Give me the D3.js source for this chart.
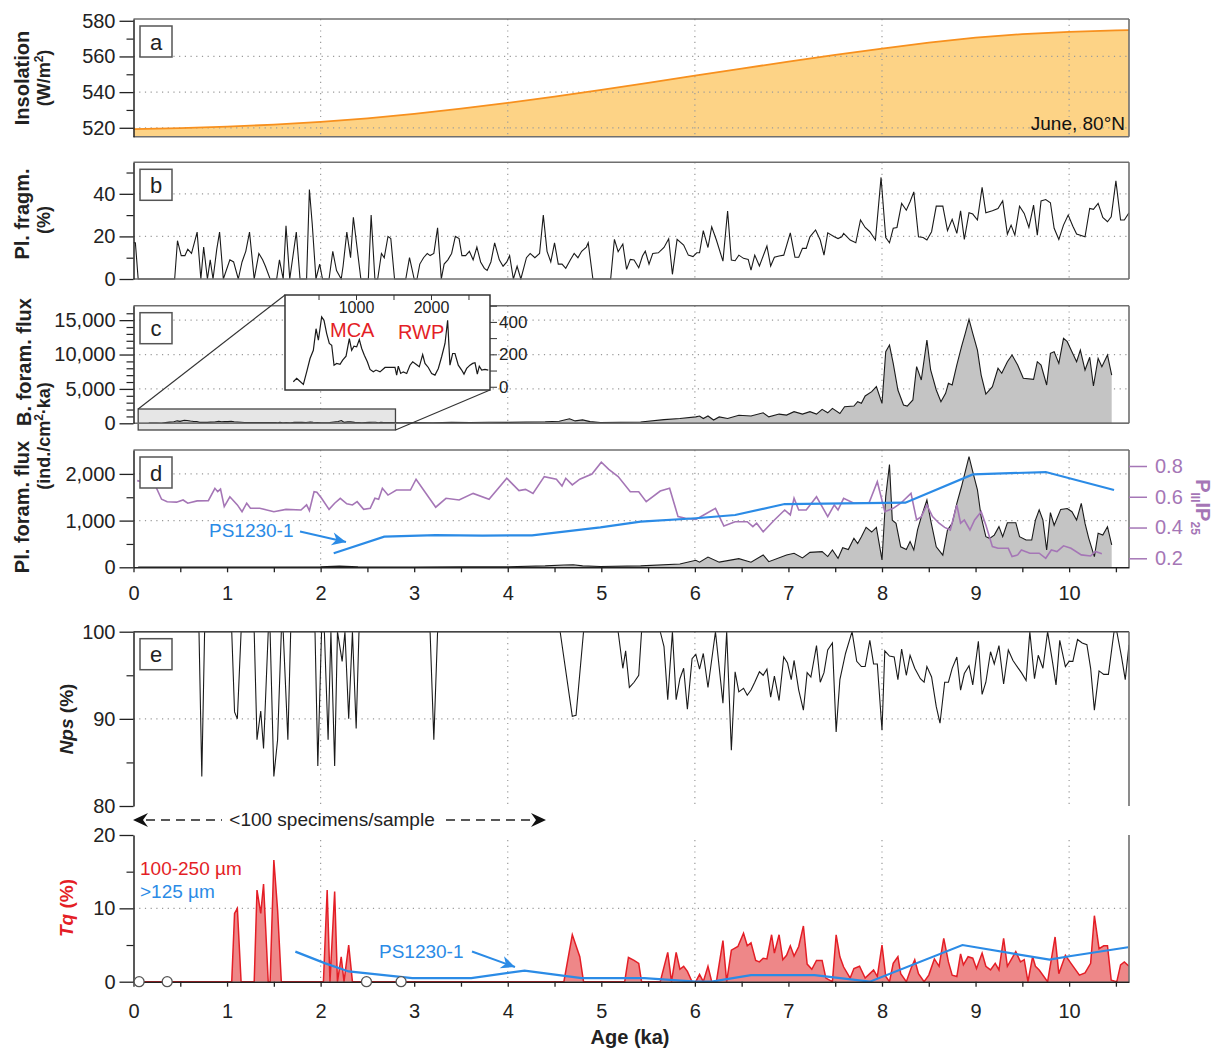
<!DOCTYPE html>
<html><head><meta charset="utf-8">
<script src="https://cdn.jsdelivr.net/npm/d3@7"></script>
<style>
body{margin:0;background:#fff;}
svg{font-family:"Liberation Sans",Arial,Helvetica,sans-serif;}
</style></head><body>
<svg id="chart" width="1220" height="1055"></svg>
<script>
// ---------------- DATA ----------------
const ageDomain = [0, 10.64];
const ageMajorTicks = [0,1,2,3,4,5,6,7,8,9,10];
const ageMinorTicks = [0.5,1.5,2.5,3.5,4.5,5.5,6.5,7.5,8.5,9.5,10.5];
const ageGrid = [2,4,6,8,10];

// (a) June insolation 80°N (W/m2)
const insolData = [[0,519.2],[0.5,519.8],[1,520.6],[1.5,521.8],[2,523.3],[2.5,525.3],[3,527.8],[3.5,530.7],[4,534],[4.5,537.5],[5,541.3],[5.5,545.2],[6,549.2],[6.5,553.2],[7,557.1],[7.5,560.9],[8,564.4],[8.5,567.8],[9,570.6],[9.5,572.5],[10,573.8],[10.5,574.6],[10.64,574.8]];
const insolTicks = [520,540,560,580], insolMinor = [530,550,570], insolGrid = [520,540,560];

// (b) planktic fragments (%)
const fragData = [[0.0,17],[0.02,17],[0.05,0],[0.44,0],[0.47,18],[0.51,11],[0.55,11],[0.58,14],[0.62,12],[0.65,17],[0.68,22],[0.72,0],[0.75,15],[0.79,0],[0.82,9],[0.85,0],[0.89,14],[0.92,22],[0.96,0],[1.03,9],[1.07,8],[1.12,0],[1.16,8],[1.20,13],[1.24,22],[1.29,0],[1.34,12],[1.38,9],[1.41,6],[1.46,0],[1.53,0],[1.56,9],[1.60,0],[1.63,25],[1.67,0],[1.74,22],[1.78,0],[1.85,0],[1.88,42],[1.91,26],[1.95,0],[1.99,7],[2.02,0],[2.09,0],[2.13,13],[2.17,4],[2.22,0],[2.24,6],[2.28,22],[2.32,10],[2.35,29],[2.43,0],[2.51,0],[2.54,30],[2.58,0],[2.61,0],[2.65,12],[2.68,10],[2.72,20],[2.75,19],[2.79,0],[2.91,0],[2.95,10],[3.00,0],[3.03,0],[3.06,7],[3.10,10],[3.14,12],[3.17,11],[3.21,12],[3.25,24],[3.29,0],[3.32,7],[3.36,9],[3.40,12],[3.44,20],[3.48,19],[3.51,11],[3.55,11],[3.59,13],[3.63,9],[3.67,15],[3.71,8],[3.75,5],[3.78,4],[3.82,8],[3.86,17],[3.91,9],[3.95,6],[3.99,8],[4.02,11],[4.06,0],[4.10,6],[4.14,0],[4.20,10],[4.24,12],[4.29,10],[4.34,12],[4.38,30],[4.42,13],[4.46,8],[4.50,17],[4.54,7],[4.58,7],[4.62,5],[4.67,9],[4.71,12],[4.75,10],[4.79,13],[4.84,15],[4.86,17],[4.91,0],[5.10,0],[5.14,18.6],[5.18,12.8],[5.23,16.4],[5.27,4.5],[5.31,9.2],[5.35,8.9],[5.40,5.3],[5.44,10.8],[5.47,13.1],[5.51,7],[5.55,12],[5.61,12.3],[5.67,14.8],[5.72,18.9],[5.76,2.2],[5.81,18.6],[5.88,15.9],[5.93,11.2],[5.98,10.5],[6.02,12.3],[6.05,12.3],[6.09,22.7],[6.14,14.8],[6.18,24.5],[6.23,18.3],[6.30,8.4],[6.35,31.9],[6.39,8.9],[6.43,8.6],[6.47,11.2],[6.52,9.7],[6.57,9.2],[6.60,4.2],[6.64,11.2],[6.69,6.1],[6.77,15.5],[6.81,6.1],[6.85,10.2],[6.90,10.8],[6.95,11.2],[7.02,21.7],[7.07,10.2],[7.11,10.2],[7.15,14.4],[7.19,14.4],[7.23,19.8],[7.29,23],[7.34,18.3],[7.38,11.2],[7.42,21.7],[7.49,19.8],[7.53,19],[7.57,19.8],[7.59,21.4],[7.66,18.3],[7.72,17],[7.77,27.7],[7.82,24.2],[7.87,22.2],[7.93,18.3],[7.99,47.7],[8.04,19.5],[8.08,17],[8.12,23.8],[8.16,24.2],[8.21,35.5],[8.26,32.3],[8.30,36.3],[8.34,40.9],[8.39,19.8],[8.44,19.5],[8.48,18.3],[8.53,22.2],[8.58,34.2],[8.65,34.2],[8.70,22.7],[8.75,28],[8.80,21.4],[8.84,32],[8.88,18.6],[8.93,31.1],[8.97,30.5],[9.02,27.7],[9.07,43],[9.11,31.1],[9.18,32],[9.24,33.1],[9.29,36.7],[9.34,21.1],[9.38,25.3],[9.42,20.6],[9.47,34.2],[9.52,30.8],[9.57,24.2],[9.62,34.7],[9.66,20.6],[9.70,36.7],[9.75,37.3],[9.80,35.8],[9.84,23.8],[9.89,18.6],[9.94,25.3],[9.99,30],[10.04,24.8],[10.08,21.1],[10.17,19.8],[10.22,33.1],[10.26,32.7],[10.31,35.5],[10.36,28.9],[10.41,26.9],[10.45,29.2],[10.50,46.1],[10.55,27.7],[10.59,27.7],[10.64,31.1]];
const fragTicks = [0,20,40], fragMinor = [10,30,50], fragGrid = [20,40];

// (c) benthic foram flux: inset record 0-2.8 ka (years BP, ind./cm2 ka)
const insetData = [[164,31],[209,52],[244,37],[298,14],[342,92],[387,174],[431,225],[467,358],[498,287],[542,431],[573,410],[609,328],[644,267],[676,256],[707,133],[742,144],[787,139],[822,164],[867,189],[911,297],[942,225],[973,250],[1009,246],[1044,291],[1076,236],[1111,195],[1151,154],[1187,107],[1231,92],[1267,103],[1320,92],[1387,119],[1453,119],[1520,119],[1542,72],[1564,127],[1596,82],[1631,92],[1676,82],[1720,133],[1756,154],[1800,139],[1844,123],[1889,199],[1920,144],[1964,119],[2009,82],[2053,72],[2098,113],[2142,185],[2187,267],[2222,410],[2253,133],[2289,205],[2320,205],[2364,133],[2409,103],[2440,78],[2476,113],[2520,133],[2556,144],[2587,148],[2618,78],[2644,127],[2676,103],[2720,107],[2764,103]];
const insetXTicks = [500,1000,1500,2000,2500], insetXLabels = [1000,2000];
const insetYTicks = [0,100,200,300,400,500], insetYLabels = [0,200,400];
// benthic foram flux, 2.8-10.5 ka (ka, ind./cm2 ka)
const bfluxData = [[2.85,90],[3.0,110],[3.2,90],[3.4,130],[3.6,110],[3.8,150],[4.0,140],[4.2,180],[4.4,220],[4.55,300],[4.66,650],[4.72,350],[4.8,500],[4.88,250],[4.99,120],[5.42,200],[5.67,540],[5.84,690],[6.01,930],[6.05,1060],[6.09,690],[6.14,1060],[6.20,480],[6.26,930],[6.35,690],[6.47,1160],[6.60,1060],[6.73,1530],[6.79,930],[6.90,1340],[6.98,1190],[7.06,1690],[7.15,1340],[7.23,1690],[7.30,1340],[7.36,2030],[7.42,1530],[7.47,2170],[7.55,1430],[7.60,2410],[7.70,2510],[7.74,3140],[7.78,2900],[7.82,3970],[7.89,4600],[7.94,5330],[8.00,2900],[8.04,10410],[8.08,11380],[8.12,8720],[8.17,4840],[8.23,2660],[8.27,2510],[8.33,3390],[8.37,8240],[8.42,6300],[8.48,12110],[8.52,7750],[8.58,4840],[8.63,3140],[8.68,4360],[8.71,5810],[8.75,5570],[8.80,8480],[8.85,11140],[8.89,13080],[8.93,15110],[8.97,13080],[9.02,10650],[9.06,7020],[9.11,4260],[9.18,5330],[9.24,8000],[9.28,7270],[9.34,8960],[9.39,9930],[9.45,8480],[9.51,6540],[9.62,6390],[9.66,8960],[9.70,8480],[9.76,5570],[9.80,10170],[9.84,10410],[9.89,8720],[9.94,12350],[9.98,11870],[10.03,10410],[10.08,8960],[10.12,10650],[10.17,7750],[10.22,9600],[10.26,5420],[10.31,9440],[10.35,8240],[10.41,9930],[10.455,7020]];
const bfluxTicks = [0,5000,10000,15000];
const bfluxMinor = [1000,2000,3000,4000,6000,7000,8000,9000,11000,12000,13000,14000,16000];
const bfluxGrid = [5000,10000,15000];

// (d) planktic foram flux, PS1230-1 flux, PIIIIP25
const pfluxData = [[0.05,5],[0.5,6],[1.0,8],[1.5,6],[2.0,10],[2.2,25],[2.4,12],[3.0,8],[3.5,10],[4.0,12],[4.4,30],[4.6,50],[4.7,55],[4.8,30],[4.99,16],[5.42,30],[5.84,70],[6.01,150],[6.05,110],[6.14,220],[6.26,110],[6.47,185],[6.60,110],[6.73,264],[6.79,120],[6.98,264],[7.06,300],[7.15,200],[7.23,320],[7.36,335],[7.42,230],[7.47,370],[7.53,190],[7.58,420],[7.64,380],[7.70,620],[7.74,510],[7.78,655],[7.83,855],[7.89,755],[7.94,855],[8.00,158],[8.04,1520],[8.08,2200],[8.11,1010],[8.15,940],[8.20,440],[8.26,380],[8.30,550],[8.34,370],[8.38,800],[8.42,1080],[8.48,1440],[8.52,1010],[8.58,440],[8.65,260],[8.70,800],[8.75,940],[8.80,1370],[8.85,1730],[8.89,2050],[8.93,2370],[8.97,2050],[9.02,1660],[9.06,1080],[9.11,655],[9.15,620],[9.20,690],[9.25,870],[9.29,655],[9.34,955],[9.43,955],[9.47,655],[9.54,585],[9.60,585],[9.64,1010],[9.68,1230],[9.72,1010],[9.76,370],[9.80,1170],[9.84,900],[9.91,1240],[9.98,1260],[10.03,1190],[10.08,1010],[10.13,1370],[10.17,940],[10.21,620],[10.27,230],[10.31,730],[10.36,690],[10.41,870],[10.455,480]];
const ps1230FluxData = [[2.14,300],[2.68,655],[3.23,690],[3.73,680],[4.26,685],[4.99,856],[5.42,977],[6.01,1050],[6.43,1120],[6.96,1355],[8.25,1383],[8.97,1990],[9.75,2040],[10.48,1655]];
const pip25Data = [[0.04,0.705],[0.23,0.677],[0.30,0.584],[0.36,0.568],[0.46,0.565],[0.53,0.579],[0.58,0.558],[0.68,0.573],[0.80,0.575],[0.87,0.655],[0.90,0.633],[0.93,0.65],[0.97,0.536],[1.03,0.60],[1.11,0.547],[1.16,0.503],[1.21,0.558],[1.25,0.525],[1.35,0.525],[1.50,0.503],[1.63,0.518],[1.79,0.514],[1.85,0.547],[1.88,0.51],[1.93,0.633],[1.96,0.629],[2.01,0.59],[2.09,0.518],[2.15,0.558],[2.21,0.59],[2.28,0.554],[2.34,0.547],[2.39,0.568],[2.46,0.518],[2.53,0.525],[2.58,0.59],[2.62,0.584],[2.66,0.655],[2.72,0.611],[2.81,0.644],[2.96,0.644],[3.02,0.714],[3.23,0.532],[3.34,0.59],[3.48,0.579],[3.63,0.622],[3.80,0.584],[3.99,0.72],[4.12,0.64],[4.19,0.648],[4.27,0.622],[4.39,0.731],[4.52,0.714],[4.58,0.67],[4.62,0.72],[4.69,0.677],[4.77,0.714],[4.90,0.748],[5.00,0.825],[5.08,0.778],[5.18,0.731],[5.31,0.633],[5.40,0.633],[5.48,0.568],[5.63,0.637],[5.73,0.655],[5.82,0.471],[5.90,0.46],[6.01,0.453],[6.09,0.48],[6.22,0.525],[6.31,0.41],[6.43,0.438],[6.56,0.438],[6.62,0.406],[6.66,0.428],[6.73,0.373],[6.85,0.449],[6.96,0.514],[7.02,0.482],[7.06,0.59],[7.11,0.514],[7.19,0.514],[7.30,0.6],[7.36,0.536],[7.42,0.471],[7.49,0.547],[7.53,0.514],[7.59,0.59],[7.70,0.558],[7.78,0.558],[7.86,0.558],[7.95,0.698],[8.03,0.503],[8.12,0.525],[8.20,0.558],[8.31,0.622],[8.37,0.449],[8.42,0.471],[8.48,0.547],[8.54,0.471],[8.61,0.428],[8.67,0.401],[8.73,0.384],[8.80,0.547],[8.84,0.428],[8.88,0.449],[8.94,0.384],[8.99,0.449],[9.06,0.503],[9.11,0.417],[9.18,0.276],[9.24,0.265],[9.35,0.265],[9.39,0.211],[9.45,0.222],[9.49,0.254],[9.58,0.233],[9.68,0.233],[9.75,0.2],[9.81,0.254],[9.87,0.244],[9.94,0.281],[10.02,0.265],[10.13,0.222],[10.23,0.215],[10.28,0.244],[10.35,0.229]];
const pfluxTicks = [0,1000,2000], pfluxMinor = [500,1500], pfluxGrid = [1000,2000];
const pipTicks = [0.2,0.4,0.6,0.8];

// (e) Nps (%)
const npsData = [[0,100],[0.70,100],[0.73,83.4],[0.76,100],[1.05,100],[1.08,90.8],[1.11,90],[1.15,100],[1.29,100],[1.32,87.6],[1.36,90.9],[1.39,86.6],[1.44,100],[1.46,100],[1.50,83.4],[1.54,87.6],[1.58,100],[1.60,100],[1.65,87.6],[1.68,100],[1.94,100],[1.97,84.6],[2.01,100],[2.04,100],[2.08,87.6],[2.11,100],[2.15,84.6],[2.18,100],[2.23,96.6],[2.26,100],[2.30,90],[2.34,100],[2.38,88.9],[2.41,100],[3.17,100],[3.21,87.6],[3.25,100],[4.56,100],[4.69,90.3],[4.73,90.4],[4.81,100],[5.18,100],[5.23,95.8],[5.26,97.8],[5.30,93.6],[5.35,94.2],[5.40,95.0],[5.43,100],[5.63,100],[5.67,98.3],[5.71,92.2],[5.76,100],[5.80,92.2],[5.84,94.6],[5.88,95.8],[5.92,91.1],[5.97,96.9],[6.01,97.4],[6.05,95.7],[6.09,97.5],[6.14,93.6],[6.22,100],[6.30,91.8],[6.34,100],[6.39,86.4],[6.43,95.4],[6.47,93.1],[6.52,93.5],[6.56,92.7],[6.60,93.3],[6.64,94.2],[6.69,95.4],[6.73,95],[6.77,95.7],[6.81,92.5],[6.85,94.9],[6.90,92.1],[6.95,97.1],[6.99,96.4],[7.03,94.5],[7.06,96.7],[7.11,93.3],[7.16,91.0],[7.20,95.3],[7.24,94.8],[7.30,98.4],[7.34,94.2],[7.38,95.3],[7.42,97.9],[7.47,98.7],[7.51,88.5],[7.55,94.5],[7.61,97.5],[7.68,100],[7.73,96.6],[7.78,96],[7.82,96],[7.87,99],[7.91,96.3],[7.95,96.3],[8.00,88.7],[8.03,97.8],[8.08,97.2],[8.13,97.1],[8.17,94.5],[8.21,98],[8.26,95],[8.30,97.3],[8.35,95.8],[8.41,94.6],[8.45,94.2],[8.48,96],[8.53,94.8],[8.58,91.4],[8.62,89.5],[8.67,94.2],[8.71,94.2],[8.75,95.8],[8.80,97.1],[8.84,93.3],[8.88,95.2],[8.93,96.1],[8.97,93.9],[9.03,98.9],[9.07,92.8],[9.11,94.2],[9.16,97.7],[9.20,96.3],[9.25,98.4],[9.30,94.0],[9.35,97.9],[9.40,96.7],[9.45,95.9],[9.49,95.3],[9.54,94.4],[9.58,100],[9.63,94.6],[9.67,97.3],[9.72,95.8],[9.77,100],[9.82,96.7],[9.86,93.9],[9.90,99],[9.96,96],[10.00,96.6],[10.04,96.6],[10.09,99.1],[10.14,98.7],[10.19,98.5],[10.23,95.8],[10.27,91.0],[10.32,95.5],[10.37,95.1],[10.42,95.1],[10.48,100],[10.51,100],[10.56,97.1],[10.60,94.5],[10.64,98.5]];
const npsTicks = [80,90,100], npsMinor = [85,95], npsGrid = [90];

// Tq (%)
const tqData = [[0,0],[1.05,0],[1.08,9.3],[1.11,10],[1.15,0],[1.29,0],[1.32,12.5],[1.36,9.3],[1.39,13.3],[1.44,0],[1.46,0],[1.50,16.6],[1.54,9.8],[1.58,0],[2.03,0],[2.07,12.5],[2.10,0],[2.15,12.3],[2.18,0],[2.22,3.4],[2.25,0],[2.30,5],[2.34,0],[4.60,0],[4.69,6.4],[4.77,3.4],[4.81,0],[5.25,0],[5.29,3.3],[5.35,2.9],[5.40,2.5],[5.43,0],[5.63,0],[5.71,4.0],[5.75,0],[5.80,4.0],[5.84,1.7],[5.88,2.1],[5.92,1.4],[5.97,0],[6.01,0],[6.05,1.0],[6.09,0],[6.14,2.1],[6.18,0],[6.23,0],[6.30,5.6],[6.34,0],[6.39,4.3],[6.46,4.8],[6.52,6.6],[6.56,4.9],[6.60,5.3],[6.65,2.9],[6.69,2.7],[6.73,3.2],[6.77,3.1],[6.82,6.4],[6.85,3.9],[6.90,6.4],[6.94,3.0],[6.98,3.6],[7.02,4.9],[7.06,3.5],[7.11,4.8],[7.16,7.6],[7.20,2.4],[7.25,1.7],[7.30,2.9],[7.36,2.9],[7.40,0.5],[7.47,0],[7.51,6.4],[7.55,3.4],[7.59,2.0],[7.66,0.5],[7.70,1.8],[7.76,2.1],[7.82,0.5],[7.87,1.1],[7.91,1.6],[7.95,0.7],[8.00,5.0],[8.04,0.7],[8.08,0],[8.12,2.5],[8.17,3.4],[8.20,1.1],[8.26,0],[8.31,1.8],[8.35,3.0],[8.39,1.1],[8.45,0],[8.50,0.9],[8.56,3.1],[8.61,2.1],[8.66,5.9],[8.71,2.7],[8.75,0.9],[8.80,0.7],[8.84,3.8],[8.87,2.3],[8.92,3.4],[8.97,3.2],[9.01,1.8],[9.07,3.9],[9.11,2.1],[9.16,1.6],[9.21,2.5],[9.25,1.6],[9.30,5.9],[9.34,2.1],[9.39,3.2],[9.43,4.1],[9.48,2.7],[9.52,3.0],[9.56,0],[9.61,3.4],[9.64,2.1],[9.68,1.6],[9.77,0],[9.85,6.1],[9.89,1.1],[9.96,3.6],[10.02,2.5],[10.11,0.9],[10.17,1.2],[10.23,2.5],[10.27,9.0],[10.32,4.5],[10.37,4.9],[10.41,4.9],[10.45,0.2],[10.51,0],[10.55,2.3],[10.59,2.7],[10.64,2.1]];
const tqPsData = [[1.73,4.1],[2.05,2.5],[2.30,1.4],[2.98,0.5],[3.61,0.5],[4.18,1.5],[4.79,0.5],[5.46,0.5],[6.01,0],[6.18,0],[6.60,0.9],[7.28,0.9],[7.87,0],[8.86,5.0],[9.79,3.0],[10.02,3.5],[10.63,4.7]];
const tqZeroSamples = [0.06,0.36,2.49,2.86];
const tqTicks = [0,10,20], tqMinor = [5,15], tqGrid = [10];

// ---------------- LAYOUT / STYLE ----------------
const X0 = 133.5, X1 = 1129;
const BLUE='#2b8be6', PURPLE='#a576b6', RED='#e41e26', ORANGE='#f7901e', ORANGE_FILL='#fdd386',
      GRAY_FILL='#c4c4c4', FRAME='#6f6f6f', AXIS='#222', GRID='#9a9a9a';
const P = {
  a:{top:19,bottom:136.7,domain:[515,581]},
  b:{top:162.3,bottom:279,domain:[0,54.8]},
  c:{top:305.7,bottom:423.3,domain:[0,17100]},
  d:{top:450,bottom:567.3,domain:[0,2512]},
  e:{top:631.7,bottom:806,domain:[80,100]},
  t:{top:835,bottom:981.7,domain:[0,20]}
};

const svg = d3.select('#chart');
const defs = svg.append('defs');
const x = d3.scaleLinear().domain(ageDomain).range([X0, X1]);
const Y = {};
for (const k in P) Y[k] = d3.scaleLinear().domain(P[k].domain).range([P[k].bottom, P[k].top]);
for (const k in P) defs.append('clipPath').attr('id','clip-'+k).append('rect')
  .attr('x',X0).attr('y',P[k].top-1).attr('width',X1-X0).attr('height',P[k].bottom-P[k].top+2);

function gridH(k, vals, top){
  const g = svg.append('g');
  g.selectAll('line.h').data(vals).join('line')
    .attr('x1',X0).attr('x2',X1).attr('y1',d=>Y[k](d)).attr('y2',d=>Y[k](d))
    .attr('stroke',GRID).attr('stroke-width',1.2).attr('stroke-dasharray','1.2,4.5');
  g.selectAll('line.v').data(ageGrid).join('line')
    .attr('x1',d=>x(d)).attr('x2',d=>x(d)).attr('y1',top!==undefined?top:P[k].top).attr('y2',P[k].bottom)
    .attr('stroke',GRID).attr('stroke-width',1.2).attr('stroke-dasharray','1.2,4.5');
}
function leftAxis(k, major, minor, fmt){
  const y = Y[k];
  const g = svg.append('g').attr('transform',`translate(${X0},0)`)
    .call(d3.axisLeft(y).tickValues(major).tickSize(14).tickSizeOuter(0).tickPadding(4).tickFormat(fmt||d3.format('d')));
  g.select('.domain').attr('stroke',AXIS).attr('stroke-width',1.5);
  g.selectAll('.tick line').attr('stroke',AXIS).attr('stroke-width',1.3);
  g.selectAll('text').attr('font-size',20).attr('fill','#222');
  const m = svg.append('g').attr('transform',`translate(${X0},0)`)
    .call(d3.axisLeft(y).tickValues(minor).tickSize(7).tickFormat(''));
  m.select('.domain').remove();
  m.selectAll('.tick line').attr('stroke',AXIS).attr('stroke-width',1.2);
}
function frame(k, showBottom){
  const p = P[k];
  const g = svg.append('g').attr('fill','none').attr('stroke',FRAME).attr('stroke-width',1.6);
  g.append('line').attr('x1',X0).attr('x2',X1).attr('y1',p.top).attr('y2',p.top);
  g.append('line').attr('x1',X1).attr('x2',X1).attr('y1',p.top).attr('y2',p.bottom);
  if (showBottom) g.append('line').attr('x1',X0).attr('x2',X1).attr('y1',p.bottom).attr('y2',p.bottom);
}
function bottomAxis(k, pad){
  const g = svg.append('g').attr('transform',`translate(0,${P[k].bottom})`)
    .call(d3.axisBottom(x).tickValues(ageMajorTicks).tickSize(5).tickSizeOuter(0).tickPadding(pad).tickFormat(d3.format('d')));
  g.select('.domain').attr('stroke',AXIS).attr('stroke-width',1.5);
  g.selectAll('.tick line').attr('stroke',AXIS).attr('stroke-width',1.3);
  g.selectAll('text').attr('font-size',20).attr('fill','#222');
  const m = svg.append('g').attr('transform',`translate(0,${P[k].bottom})`)
    .call(d3.axisBottom(x).tickValues(ageMinorTicks).tickSize(5).tickFormat(''));
  m.select('.domain').remove();
  m.selectAll('.tick line').attr('stroke',AXIS).attr('stroke-width',1.3);
}
function labelBox(k, letter){
  const t = P[k].top;
  svg.append('rect').attr('x',140).attr('y',t+7).attr('width',32).attr('height',31)
    .attr('fill','#fff').attr('stroke','#555').attr('stroke-width',1.5);
  svg.append('text').attr('x',156).attr('y',t+23).attr('dy','0.35em').attr('text-anchor','middle')
    .attr('font-size',22).attr('fill','#222').text(letter);
}
function vTitle(cx, cy, parts, size, color, rot){
  const t = svg.append('text').attr('transform',`translate(${cx},${cy}) rotate(${rot||-90})`)
    .attr('text-anchor','middle').attr('dy','0.35em').attr('font-size',size).attr('font-weight','bold').attr('fill',color||'#222');
  parts.forEach(p=>{
    const s = t.append('tspan').text(p.t);
    if (p.i) s.attr('font-style','italic');
    if (p.fs) s.attr('font-size',p.fs);
    if (p.dy) s.attr('dy',p.dy);
  });
}
const line = (k)=>d3.line().x(d=>x(d[0])).y(d=>Y[k](d[1]));

// ---------------- PANEL a ----------------
svg.append('path').datum(insolData).attr('d',d3.area().x(d=>x(d[0])).y0(P.a.bottom).y1(d=>Y.a(d[1])))
  .attr('fill',ORANGE_FILL).attr('clip-path','url(#clip-a)');
gridH('a', insolGrid);
svg.append('path').datum(insolData).attr('d',line('a')).attr('fill','none').attr('stroke',ORANGE).attr('stroke-width',1.8);
frame('a', true);
leftAxis('a', insolTicks, insolMinor);
svg.append('text').attr('x',1125).attr('y',130).attr('text-anchor','end').attr('font-size',19).attr('fill','#111').text('June, 80°N');
vTitle(22, 78, [{t:'Insolation'}], 20);
vTitle(44, 78, [{t:'(W/m'},{t:'2',fs:12,dy:-7},{t:')',dy:7}], 18);

// ---------------- PANEL b ----------------
gridH('b', fragGrid);
svg.append('path').datum(fragData).attr('d',line('b')).attr('fill','none').attr('stroke','#1a1a1a').attr('stroke-width',1.1).attr('clip-path','url(#clip-b)');
frame('b', true);
leftAxis('b', fragTicks, fragMinor);
vTitle(22, 214, [{t:'Pl. fragm.'}], 20);
vTitle(44, 220, [{t:'(%)'}], 18);

// ---------------- PANEL c ----------------
gridH('c', bfluxGrid);
const bfluxAll = insetData.map(d=>[d[0]/1000, d[1]]).concat(bfluxData);
svg.append('rect').attr('x',x(0.05)).attr('y',409).attr('width',x(2.8)-x(0.05)).attr('height',21)
  .attr('fill','#e6e6e6').attr('stroke','#444').attr('stroke-width',1.3);
svg.append('path').datum(bfluxAll).attr('d',d3.area().x(d=>x(d[0])).y0(Y.c(0)).y1(d=>Y.c(d[1])))
  .attr('fill',GRAY_FILL).attr('clip-path','url(#clip-c)');
svg.append('path').datum(bfluxAll).attr('d',line('c')).attr('fill','none').attr('stroke','#1a1a1a').attr('stroke-width',1.1);
svg.append('line').attr('x1',x(0.05)).attr('x2',X1).attr('y1',Y.c(0)).attr('y2',Y.c(0)).attr('stroke','#333').attr('stroke-width',1.2);
frame('c', true);
leftAxis('c', bfluxTicks, bfluxMinor, d3.format(','));
svg.append('line').attr('x1',x(0.05)).attr('y1',409).attr('x2',285).attr('y2',295).attr('stroke','#333').attr('stroke-width',1.1);
svg.append('line').attr('x1',x(2.8)).attr('y1',430).attr('x2',490).attr('y2',390).attr('stroke','#333').attr('stroke-width',1.1);
// inset
const ix = d3.scaleLinear().domain([53,2787]).range([285,490]);
const iy = d3.scaleLinear().domain([-20,566]).range([390,295]);
svg.append('rect').attr('x',285).attr('y',295).attr('width',205).attr('height',95).attr('fill','#fff').attr('stroke','#333').attr('stroke-width',1.5);
svg.append('path').datum(insetData).attr('d',d3.line().x(d=>ix(d[0])).y(d=>iy(d[1]))).attr('fill','none').attr('stroke','#1a1a1a').attr('stroke-width',1.2);
{
  const g = svg.append('g').attr('transform','translate(0,295)')
    .call(d3.axisBottom(ix).tickValues(insetXTicks).tickSize(5).tickPadding(2).tickFormat(d=>insetXLabels.includes(d)?d:''));
  g.select('.domain').remove();
  g.selectAll('.tick line').attr('stroke','#333');
  g.selectAll('text').attr('font-size',16).attr('fill','#222');
  const r = svg.append('g').attr('transform','translate(490,0)')
    .call(d3.axisRight(iy).tickValues(insetYTicks).tickSize(7).tickPadding(2).tickFormat(d=>insetYLabels.includes(d)?d:''));
  r.select('.domain').remove();
  r.selectAll('.tick line').attr('stroke','#333');
  r.selectAll('text').attr('font-size',17).attr('fill','#222');
}
svg.append('text').attr('x',330).attr('y',337).attr('font-size',20).attr('fill',RED).text('MCA');
svg.append('text').attr('x',398).attr('y',339).attr('font-size',20).attr('fill',RED).text('RWP');
vTitle(24, 362, [{t:'B. foram. flux'}], 20);

// ---------------- PANEL d ----------------
gridH('d', pfluxGrid);
svg.append('path').datum(pfluxData).attr('d',d3.area().x(d=>x(d[0])).y0(Y.d(0)).y1(d=>Y.d(d[1])))
  .attr('fill',GRAY_FILL).attr('clip-path','url(#clip-d)');
svg.append('path').datum(pfluxData).attr('d',line('d')).attr('fill','none').attr('stroke','#1a1a1a').attr('stroke-width',1.1);
const yR = d3.scaleLinear().domain([0.1415,0.904]).range([P.d.bottom,P.d.top]);
svg.append('path').datum(pip25Data).attr('d',d3.line().x(d=>x(d[0])).y(d=>yR(d[1]))).attr('fill','none').attr('stroke',PURPLE).attr('stroke-width',1.6);
svg.append('path').datum(ps1230FluxData).attr('d',line('d')).attr('fill','none').attr('stroke',BLUE).attr('stroke-width',2.2);
frame('d', false);
leftAxis('d', pfluxTicks, pfluxMinor, d3.format(','));
bottomAxis('d', 14);
{
  const g = svg.append('g').attr('transform',`translate(${X1},0)`)
    .call(d3.axisRight(yR).tickValues(pipTicks).tickSize(18).tickPadding(8).tickFormat(d3.format('.1f')));
  g.select('.domain').remove();
  g.selectAll('.tick line').attr('stroke',PURPLE).attr('stroke-width',1.5);
  g.selectAll('text').attr('font-size',20).attr('fill',PURPLE);
}
vTitle(1203, 507, [{t:'P'},{t:'III',fs:12,dy:5},{t:'IP',dy:-5},{t:'25',fs:12,dy:5}], 20, PURPLE, 90);
svg.append('text').attr('x',209).attr('y',537).attr('font-size',19).attr('fill',BLUE).text('PS1230-1');
vTitle(22, 507, [{t:'Pl. foram. flux'}], 20);
vTitle(44, 436, [{t:'(ind./cm'},{t:'2',fs:12,dy:-7},{t:'·ka)',dy:7}], 18);

function arrow(x1,y1,x2,y2,color,w){
  svg.append('line').attr('x1',x1).attr('y1',y1).attr('x2',x2).attr('y2',y2).attr('stroke',color).attr('stroke-width',w);
  const a = Math.atan2(y2-y1,x2-x1), L=14, H=6.5;
  const p = [[x2,y2],[x2-L*Math.cos(a)+H*Math.sin(a), y2-L*Math.sin(a)-H*Math.cos(a)],
             [x2-L*0.7*Math.cos(a), y2-L*0.7*Math.sin(a)],
             [x2-L*Math.cos(a)-H*Math.sin(a), y2-L*Math.sin(a)+H*Math.cos(a)]];
  svg.append('path').attr('d','M'+p.map(q=>q.join(',')).join('L')+'Z').attr('fill',color);
}
arrow(300,531.5,346,542,BLUE,2);

// ---------------- PANEL e ----------------
gridH('e', npsGrid);
svg.append('path').datum(npsData).attr('d',line('e')).attr('fill','none').attr('stroke','#1a1a1a').attr('stroke-width',1.1).attr('clip-path','url(#clip-e)');
svg.append('line').attr('x1',X0).attr('x2',X1).attr('y1',P.e.top).attr('y2',P.e.top).attr('stroke','#444').attr('stroke-width',1.6);
svg.append('line').attr('x1',X1).attr('x2',X1).attr('y1',P.e.top).attr('y2',P.e.bottom).attr('stroke',FRAME).attr('stroke-width',1.6);
leftAxis('e', npsTicks, npsMinor);
vTitle(66, 719, [{t:'Nps',i:true},{t:' (%)'}], 19);

{
  const yA = 820;
  svg.append('line').attr('x1',146).attr('x2',222).attr('y1',yA).attr('y2',yA).attr('stroke','#222').attr('stroke-width',1.6).attr('stroke-dasharray','9,6');
  svg.append('line').attr('x1',446).attr('x2',533).attr('y1',yA).attr('y2',yA).attr('stroke','#222').attr('stroke-width',1.6).attr('stroke-dasharray','9,6');
  svg.append('path').attr('d',`M133,${yA}L148,${yA-7}L143,${yA}L148,${yA+7}Z`).attr('fill','#111');
  svg.append('path').attr('d',`M546,${yA}L531,${yA-7}L536,${yA}L531,${yA+7}Z`).attr('fill','#111');
  svg.append('text').attr('x',332).attr('y',826).attr('text-anchor','middle').attr('font-size',19).attr('fill','#222').text('<100 specimens/sample');
}

// ---------------- PANEL Tq ----------------
gridH('t', tqGrid, 840);
svg.append('path').datum(tqData).attr('d',d3.area().x(d=>x(d[0])).y0(Y.t(0)).y1(d=>Y.t(d[1])))
  .attr('fill','#ee8788').attr('clip-path','url(#clip-t)');
svg.append('path').datum(tqData).attr('d',line('t')).attr('fill','none').attr('stroke',RED).attr('stroke-width',1.5).attr('clip-path','url(#clip-t)');
svg.append('path').datum(tqPsData).attr('d',line('t')).attr('fill','none').attr('stroke',BLUE).attr('stroke-width',2.2);
svg.append('line').attr('x1',X1).attr('x2',X1).attr('y1',P.t.top).attr('y2',P.t.bottom).attr('stroke',FRAME).attr('stroke-width',1.6);
leftAxis('t', tqTicks, tqMinor);
bottomAxis('t', 17);
svg.selectAll('circle.zero').data(tqZeroSamples).join('circle')
  .attr('cx',d=>x(d)).attr('cy',Y.t(0)).attr('r',5).attr('fill','#fff').attr('stroke','#555').attr('stroke-width',1.3);
svg.append('text').attr('x',140).attr('y',875).attr('font-size',19).attr('fill',RED).text('100-250 µm');
svg.append('text').attr('x',140).attr('y',898).attr('font-size',19).attr('fill',BLUE).text('>125 µm');
svg.append('text').attr('x',379).attr('y',958).attr('font-size',19).attr('fill',BLUE).text('PS1230-1');
arrow(472,951.5,515,967,BLUE,2);
vTitle(66, 908, [{t:'Tq',i:true},{t:' (%)'}], 19, RED);
svg.append('text').attr('x',630).attr('y',1044).attr('text-anchor','middle').attr('font-size',20).attr('font-weight','bold').attr('fill','#222').text('Age (ka)');

labelBox('a','a'); labelBox('b','b'); labelBox('c','c'); labelBox('d','d'); labelBox('e','e');
</script>
</body></html>
